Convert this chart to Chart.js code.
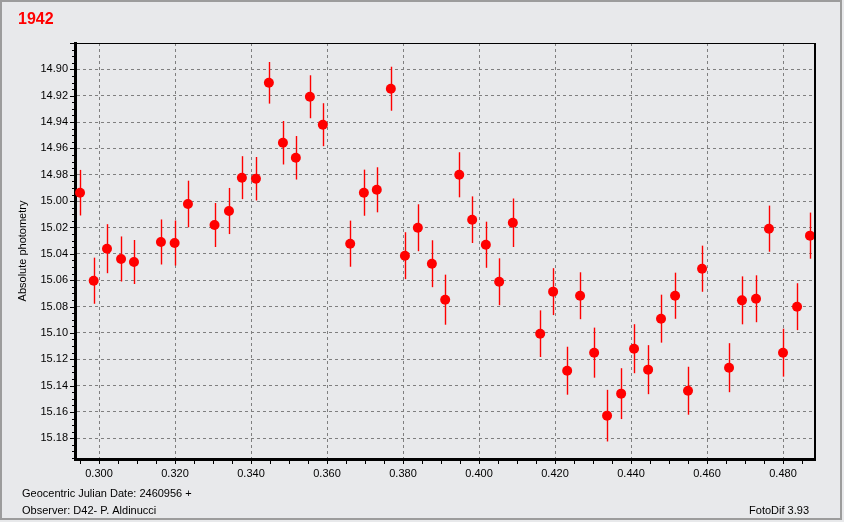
<!DOCTYPE html>
<html><head><meta charset="utf-8">
<script src="https://cdn.jsdelivr.net/npm/chart.js@4.4.0/dist/chart.umd.min.js"></script>
<style>html,body{margin:0;padding:0;background:#E8E9EB;}canvas{display:block}</style>
</head><body>
<canvas id="c" width="844" height="522"></canvas>
<script>
const titleText = '1942';
const yAxisTitle = 'Absolute photometry';
const footerDate = 'Geocentric Julian Date: 2460956 +';
const footerObserver = 'Observer: D42- P. Aldinucci';
const footerSoftware = 'FotoDif 3.93';

const jd = [0.2950,0.2986,0.3021,0.3058,0.3092,0.3163,0.3199,0.3234,0.3304,0.3342,
            0.3376,0.3413,0.3447,0.3484,0.3518,0.3555,0.3589,0.3661,0.3697,0.3731,
            0.3768,0.3805,0.3839,0.3876,0.3911,0.3948,0.3982,0.4018,0.4053,0.4089,
            0.4161,0.4195,0.4232,0.4266,0.4303,0.4337,0.4374,0.4408,0.4445,0.4479,
            0.4516,0.4550,0.4587,0.4658,0.4692,0.4729,0.4763,0.4800,0.4837,0.4871];
const mag = [14.9936,15.0604,15.0361,15.0439,15.0462,15.0310,15.0318,15.0022,15.0181,15.0075,
             14.9822,14.9830,14.9102,14.9557,14.9671,14.9208,14.9420,15.0323,14.9936,14.9914,
             14.9147,15.0414,15.0202,15.0475,15.0748,14.9800,15.0141,15.0331,15.0612,15.0164,
             15.1006,15.0687,15.1287,15.0718,15.1150,15.1628,15.1461,15.1120,15.1279,15.0892,
             15.0718,15.1439,15.0513,15.1264,15.0753,15.0741,15.0209,15.1150,15.0801,15.0262];
const magErr = [0.0173,0.0175,0.0186,0.0171,0.0167,0.0171,0.0171,0.0177,0.0167,0.0175,
                0.0163,0.0165,0.0158,0.0165,0.0165,0.0163,0.0163,0.0175,0.0175,0.0171,
                0.0167,0.0178,0.0178,0.0178,0.0190,0.0171,0.0177,0.0175,0.0178,0.0184,
                0.0177,0.0178,0.0182,0.0178,0.0190,0.0196,0.0193,0.0186,0.0186,0.0182,
                0.0175,0.0182,0.0175,0.0186,0.0182,0.0178,0.0175,0.0182,0.0178,0.0175];
const xTicks = [0.300,0.320,0.340,0.360,0.380,0.400,0.420,0.440,0.460,0.480];
const yTicks = [14.90,14.92,14.94,14.96,14.98,15.00,15.02,15.04,15.06,15.08,15.10,15.12,15.14,15.16,15.18];

const X_MIN = 0.29368, X_MAX = 0.48842, Y_MIN = 14.880, Y_MAX = 15.1957;
const FONT = 'Liberation Sans, Arial, sans-serif';

const deco = {
  id: 'deco',
  beforeDraw(chart) {
    const ctx = chart.ctx;
    ctx.save();
    ctx.fillStyle = '#E8E9EB';
    ctx.fillRect(0, 0, chart.width, chart.height);
    ctx.strokeStyle = '#9C9C9C';
    ctx.lineWidth = 2;
    ctx.strokeRect(1, 1, 840, 518);
    ctx.restore();
  },
  beforeDatasetsDraw(chart) {
    const ctx = chart.ctx, xs = chart.scales.x, ys = chart.scales.y;
    ctx.save();
    ctx.strokeStyle = '#FF0000';
    ctx.lineWidth = 1.4;
    for (let i = 0; i < jd.length; i++) {
      const px = Math.round(xs.getPixelForValue(jd[i])) + 0.5;
      ctx.beginPath();
      ctx.moveTo(px, ys.getPixelForValue(mag[i] - magErr[i]));
      ctx.lineTo(px, ys.getPixelForValue(mag[i] + magErr[i]));
      ctx.stroke();
    }
    ctx.restore();
  },
  afterDraw(chart) {
    const ctx = chart.ctx, xs = chart.scales.x, ys = chart.scales.y, a = chart.chartArea;
    ctx.save();
    ctx.strokeStyle = '#000';
    // top and right frame of plot
    ctx.lineWidth = 1;
    ctx.beginPath(); ctx.moveTo(a.left, a.top + 0.5); ctx.lineTo(a.right, a.top + 0.5); ctx.stroke();
    ctx.lineWidth = 2;
    ctx.beginPath(); ctx.moveTo(a.right, a.top); ctx.lineTo(a.right, a.bottom); ctx.stroke();
    // minor ticks y
    ctx.lineWidth = 1;
    for (let k = 0; ; k++) {
      const v = 14.880 + k * 0.005;
      if (v > Y_MAX) break;
      const py = Math.round(ys.getPixelForValue(v)) + 0.5;
      const major = Math.abs(Math.round(v * 50) - v * 50) < 1e-6;
      ctx.beginPath(); ctx.moveTo(a.left - (major ? 5 : 3), py); ctx.lineTo(a.left - 1, py); ctx.stroke();
    }
    // minor ticks x
    for (let k = 0; ; k++) {
      const v = 0.295 + k * 0.005;
      if (v > X_MAX) break;
      const px = Math.round(xs.getPixelForValue(v)) + 0.5;
      ctx.beginPath(); ctx.moveTo(px, a.bottom + 1); ctx.lineTo(px, a.bottom + 5); ctx.stroke();
    }
    // footer
    ctx.fillStyle = '#000';
    ctx.font = '11px ' + FONT;
    ctx.textBaseline = 'middle';
    ctx.textAlign = 'left';
    ctx.fillText(footerDate, 22, 494);
    ctx.fillText(footerObserver, 22, 511);
    ctx.textAlign = 'right';
    ctx.fillText(footerSoftware, 809, 511);
    ctx.restore();
  }
};

new Chart(document.getElementById('c'), {
  type: 'scatter',
  data: {
    datasets: [{
      data: jd.map((x, i) => ({x, y: mag[i]})),
      backgroundColor: '#FF0000',
      borderWidth: 0,
      pointRadius: 5,
      pointHoverRadius: 5,
      pointStyle: 'circle'
    }]
  },
  plugins: [deco],
  options: {
    responsive: false,
    animation: false,
    devicePixelRatio: 1,
    layout: { padding: { left: 18, right: 29, top: 0, bottom: 0 } },
    plugins: {
      legend: { display: false },
      tooltip: { enabled: false },
      title: {
        display: true, text: titleText, align: 'start', color: '#FF0000',
        font: { family: FONT, size: 16, weight: 'bold', lineHeight: 1.2 },
        padding: { top: 10, bottom: 13.8 }
      }
    },
    scales: {
      x: {
        type: 'linear', position: 'bottom', min: X_MIN, max: X_MAX,
        afterBuildTicks: s => { s.ticks = xTicks.map(v => ({ value: v })); },
        afterFit: s => { s.height = 63; },
        ticks: { color: '#000', font: { family: FONT, size: 11 }, padding: 8, maxRotation: 0,
                 callback: v => Number(v).toFixed(3) },
        grid: { color: '#7F7F7F', lineWidth: 1, drawTicks: false },
        border: { color: '#000', width: 3, dash: [3, 3] }
      },
      y: {
        type: 'linear', position: 'left', reverse: true, min: Y_MIN, max: Y_MAX,
        afterBuildTicks: s => { s.ticks = yTicks.map(v => ({ value: v })); },
        afterFit: s => { s.width = 57; },
        ticks: { color: '#000', font: { family: FONT, size: 11 }, padding: 7,
                 callback: v => Number(v).toFixed(2) },
        grid: { color: '#7F7F7F', lineWidth: 1, drawTicks: false },
        border: { color: '#000', width: 3, dash: [3, 3] },
        title: { display: true, text: yAxisTitle, color: '#000',
                 font: { family: FONT, size: 11 }, padding: { top: -2, bottom: 0 } }
      }
    }
  }
});
</script>
</body></html>
